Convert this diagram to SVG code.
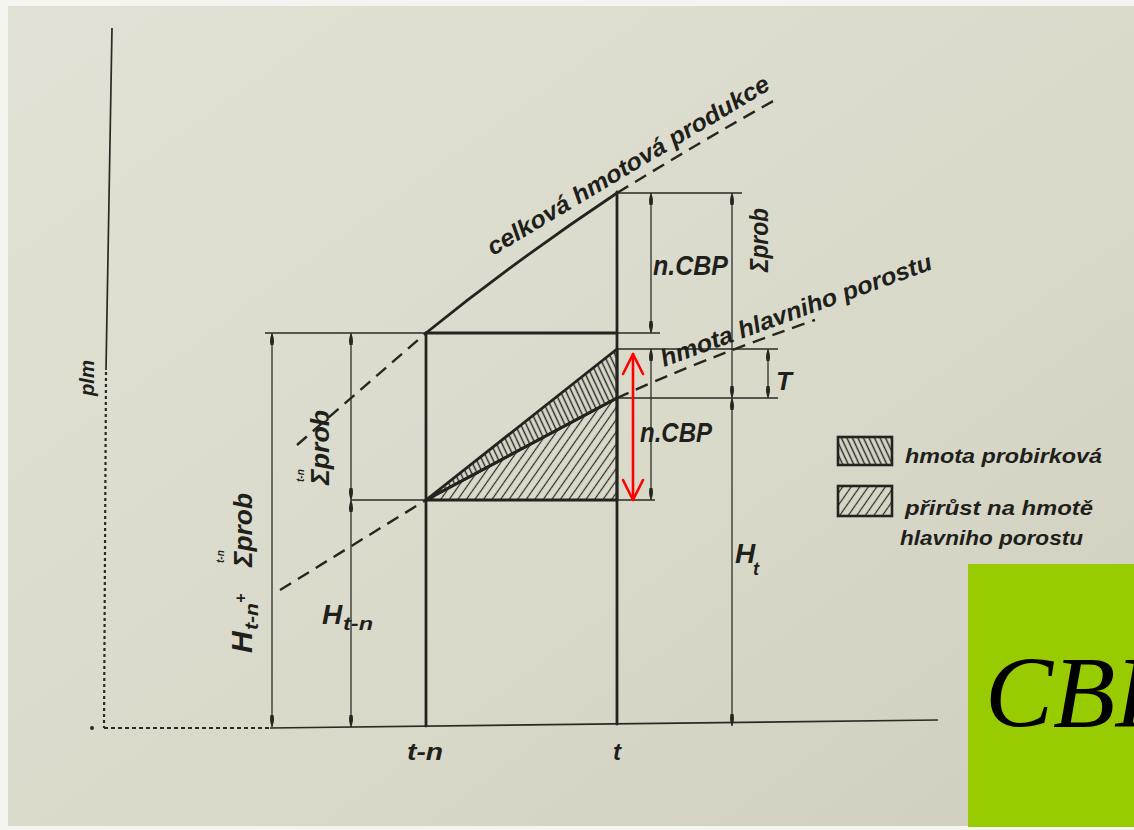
<svg xmlns="http://www.w3.org/2000/svg" width="1134" height="830" viewBox="0 0 1134 830">
<defs>
<linearGradient id="paper" x1="0" y1="0" x2="1" y2="1">
<stop offset="0" stop-color="#e1e2d5"/>
<stop offset="0.6" stop-color="#d9d9ca"/>
<stop offset="1" stop-color="#cfcebe"/>
</linearGradient>
<pattern id="hatchProb" width="5" height="10" patternUnits="userSpaceOnUse" patternTransform="rotate(-25)">
<line x1="2.5" y1="0" x2="2.5" y2="10" stroke="#2a2a26" stroke-width="1.5"/>
</pattern>
<pattern id="hatchPrir" width="7" height="10" patternUnits="userSpaceOnUse" patternTransform="rotate(35)">
<line x1="3.5" y1="0" x2="3.5" y2="10" stroke="#2a2a26" stroke-width="1.2"/>
</pattern>
<marker id="dimArrow" viewBox="0 0 12 6" refX="12" refY="3" markerWidth="12" markerHeight="6" markerUnits="userSpaceOnUse" orient="auto-start-reverse">
<path d="M0,1.5 Q6,0 12,3 Q6,6 0,4.5 z" fill="#26261f"/>
</marker>
<style>
.thick{stroke:#23231f;stroke-width:2.8;fill:none;stroke-linecap:round}
.med{stroke:#2a2a25;stroke-width:1.7;fill:none}
.dash{stroke:#26261f;stroke-width:2.4;fill:none;stroke-dasharray:13 8}
.dim{stroke:#2e2e28;stroke-width:1.3;fill:none;marker-start:url(#dimArrow);marker-end:url(#dimArrow)}
.lbl{font-family:"Liberation Sans",Arial,sans-serif;font-style:italic;font-weight:bold;fill:#1f1f1b}
.red{stroke:#ff0000;stroke-width:2.6;fill:none;stroke-linecap:round;stroke-linejoin:round}
</style>
</defs>

<rect x="0" y="0" width="1134" height="830" fill="#f4f4f0"/>
<rect x="8" y="6" width="1126" height="820" fill="url(#paper)"/>

<g id="axes">
<path class="med" d="M112,28 L106,370"/>
<path d="M106,372 L104,728" stroke="#2a2a25" stroke-width="2.2" stroke-dasharray="3 3" fill="none"/>
<path d="M104,728 L270,728" stroke="#2a2a25" stroke-width="2.2" stroke-dasharray="4 3" fill="none"/>
<path class="med" d="M270,728 L938,720" stroke-width="2.2"/>
<circle cx="92" cy="728" r="2" fill="#2a2a25"/>
</g>

<g id="connectors">
<path class="dash" d="M297,445 L426,333"/>
<path class="thick" d="M426,333 Q515,261 617,193"/>
<path class="dash" d="M617,193 Q700,142 775,100"/>
<path class="dash" d="M280,590 L426,500"/>
<path class="dash" d="M617,398 Q700,360 815,320"/>

<path class="thick" d="M426,333 L426,726"/>
<path class="thick" d="M617,192 L617,724"/>

<path class="med" d="M265,333 L426,333"/>
<path class="thick" d="M426,333 L617,333"/>
<path class="med" d="M617,333 L660,333"/>
<path class="med" d="M617,193 L742,193"/>
<path class="med" d="M617,349 L778,349"/>
<path class="med" d="M617,398 L778,398"/>
<path class="med" d="M351,500 L426,500"/>
<path class="med" d="M617,500 L655,500"/>

<path class="dim" d="M272,333 L272,727"/>
<path class="dim" d="M351,333 L351,500"/>
<path class="dim" d="M351,500 L351,727"/>
<path class="dim" d="M651,193 L651,333"/>
<path class="dim" d="M651,349 L651,500"/>
<path class="dim" d="M732,193 L732,398"/>
<path class="dim" d="M732,398 L732,726"/>
<path class="dim" d="M768,349 L768,398"/>

<path class="red" d="M633,354 L633,500"/>
<path class="red" d="M623,374 L633,354 L643,374"/>
<path class="red" d="M623,480 L633,500 L643,480"/>
</g>

<g id="triangles">
<path d="M426,500 L617,349 L617,398 Z" fill="url(#hatchProb)" stroke="#23231f" stroke-width="2.8" stroke-linejoin="round"/>
<path d="M426,500 L617,398 L617,500 Z" fill="url(#hatchPrir)" stroke="#23231f" stroke-width="2.8" stroke-linejoin="round"/>
</g>

<g id="line-labels">
<text class="lbl" font-size="24" transform="translate(493,256) rotate(-31)" textLength="325" lengthAdjust="spacingAndGlyphs">celková hmotová produkce</text>
<text class="lbl" font-size="24" transform="translate(664,367) rotate(-20)" textLength="287" lengthAdjust="spacingAndGlyphs">hmota hlavniho porostu</text>
</g>

<g id="dimension-labels">
<text class="lbl" font-size="28" x="653" y="275" textLength="75" lengthAdjust="spacingAndGlyphs">n.CBP</text>
<text class="lbl" font-size="28" x="640" y="442" textLength="72" lengthAdjust="spacingAndGlyphs">n.CBP</text>
<text class="lbl" font-size="26" x="776" y="390">T</text>
<text class="lbl" font-size="28" x="735" y="563">H</text>
<text class="lbl" font-size="18" x="753" y="575">t</text>
<text class="lbl" font-size="28" x="322" y="624">H</text>
<text class="lbl" font-size="18" x="343" y="630" textLength="30" lengthAdjust="spacingAndGlyphs">t-n</text>
<text class="lbl" font-size="26" transform="translate(768,272) rotate(-90)" textLength="64" lengthAdjust="spacingAndGlyphs">Σprob</text>
<text class="lbl" font-size="26" transform="translate(329,485) rotate(-90)" textLength="75" lengthAdjust="spacingAndGlyphs">Σprob</text>
<text class="lbl" font-size="10" transform="translate(329,485) rotate(-90)" x="3" y="-25">t-n</text>
<g transform="translate(252,653) rotate(-90)">
<text class="lbl" font-size="30" x="0" y="0">H</text>
<text class="lbl" font-size="18" x="23" y="6" textLength="27" lengthAdjust="spacingAndGlyphs">t-n</text>
<text class="lbl" font-size="16" x="50" y="-6">+</text>
<text class="lbl" font-size="26" x="86" y="0" textLength="74" lengthAdjust="spacingAndGlyphs">Σprob</text>
<text class="lbl" font-size="10" x="90" y="-28">t-n</text>
</g>
</g>

<g id="axis-labels">
<text class="lbl" font-size="20" transform="translate(94,396) rotate(-90)" textLength="36" lengthAdjust="spacingAndGlyphs">plm</text>
<text class="lbl" font-size="24" x="407" y="760" textLength="36" lengthAdjust="spacingAndGlyphs">t-n</text>
<text class="lbl" font-size="24" x="613" y="760">t</text>
</g>

<g id="legend">
<rect x="838" y="437" width="54" height="28" fill="url(#hatchProb)" stroke="#23231f" stroke-width="2.6"/>
<text class="lbl" font-size="20" x="905" y="463" textLength="197" lengthAdjust="spacingAndGlyphs">hmota probirková</text>
<rect x="838" y="486" width="54" height="30" fill="url(#hatchPrir)" stroke="#23231f" stroke-width="2.6"/>
<text class="lbl" font-size="20" x="905" y="515" textLength="188" lengthAdjust="spacingAndGlyphs">přirůst na hmotě</text>
<text class="lbl" font-size="20" x="900" y="545" textLength="183" lengthAdjust="spacingAndGlyphs">hlavniho porostu</text>
</g>

<g id="cbp-box">
<rect x="968" y="564" width="166" height="263" fill="#99cc00"/>
<text x="985" y="727" font-family="'Liberation Serif','Times New Roman',serif" font-style="italic" font-size="102" fill="#000000">CBP</text>
</g>
</svg>
